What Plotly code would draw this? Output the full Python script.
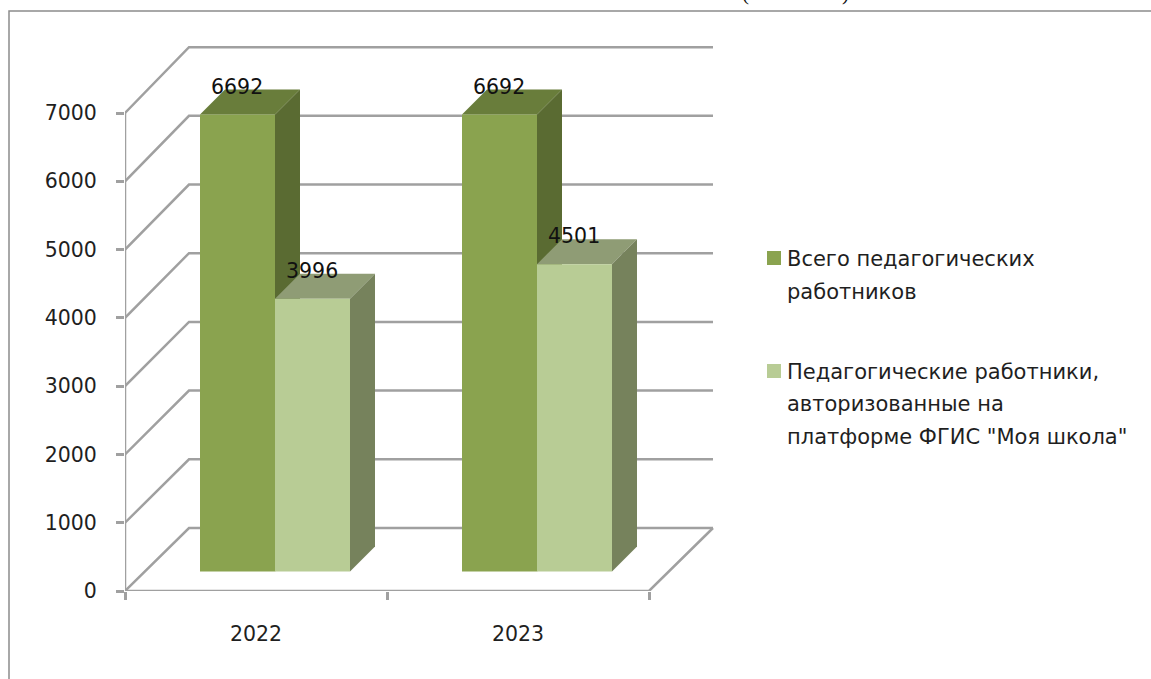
import plotly.graph_objects as go

# ---- data ----
categories = ["2022", "2023"]
series_names = ["Всего педагогических работников",
                "Педагогические работники, авторизованные на платформе ФГИС \"Моя школа\""]
total_teachers = [6692, 6692]
authorized_teachers = [3996, 4501]
y_ticks = [0, 1000, 2000, 3000, 4000, 5000, 6000, 7000]
legend_lines = [["Всего педагогических", "работников"],
                ["Педагогические работники,", "авторизованные на", "платформе ФГИС \"Моя школа\""]]

# ---- geometry (pixels) ----
W, H = 1151, 679
L, R, T, B = 125, 730, 30, 591
PX_PER_CAT = 262
PX_PER_VAL = 478 / 7000
x_u = lambda px: px / PX_PER_CAT
y_u = lambda px: px / PX_PER_VAL
px_x = lambda px: (px - L) / (R - L)
px_y = lambda py: (B - py) / (B - T)

WALL_DX, WALL_DY = x_u(64), y_u(63)
BACK_SCALE = 1.006
BAR_W = x_u(75)
BAR_DX, BAR_BASE = x_u(19), y_u(19.5)
DEPTH_X, DEPTH_Y = x_u(25), y_u(25)

GRID = "#A0A0A0"
FRAME = "#8C8C8C"
TEXT = "#1F1F1F"
FONT = "DejaVu Sans"
FS = 20.5
colors = [dict(front="#8AA34F", side="#5A6B32", top="#697D3B"),
          dict(front="#B8CC95", side="#76825C", top="#8F9C75")]

fig = go.Figure()


def line(xs, ys):
    fig.add_trace(go.Scatter(x=xs, y=ys, mode="lines", line=dict(color=GRID, width=2.5),
                             cliponaxis=False, showlegend=False, hoverinfo="skip", zorder=0))


# walls and gridlines
for v in y_ticks:
    line([0, WALL_DX, WALL_DX + len(categories)],
         [v, v * BACK_SCALE + WALL_DY, v * BACK_SCALE + WALL_DY])
line([0, 0], [y_ticks[0], y_ticks[-1]])
line([0, len(categories), len(categories) + WALL_DX], [0, 0, WALL_DY])

# bars with their top and side faces
for s, (name, vals) in enumerate(zip(series_names, [total_teachers, authorized_teachers])):
    c = colors[s]
    z = 1 + 2 * s
    xs = [i + 0.5 + BAR_DX + (s - 0.5) * BAR_W for i in range(len(categories))]
    fig.add_trace(go.Bar(x=xs, y=vals, base=BAR_BASE, width=BAR_W, name=name,
                         marker=dict(color=c["front"], line_width=0), showlegend=False, zorder=z + 1))
    for x, v in zip(xs, vals):
        x0, x1 = x - BAR_W / 2, x + BAR_W / 2
        top = BAR_BASE + v
        fig.add_trace(go.Scatter(x=[x0, x1, x1 + DEPTH_X, x0 + DEPTH_X, x0],
                                 y=[top, top, top + DEPTH_Y, top + DEPTH_Y, top],
                                 mode="lines", fill="toself", fillcolor=c["top"], line_width=0,
                                 showlegend=False, hoverinfo="skip", zorder=z))
        fig.add_trace(go.Scatter(x=[x1, x1 + DEPTH_X, x1 + DEPTH_X, x1, x1],
                                 y=[BAR_BASE, BAR_BASE + DEPTH_Y, top + DEPTH_Y, top, BAR_BASE],
                                 mode="lines", fill="toself", fillcolor=c["side"], line_width=0,
                                 showlegend=False, hoverinfo="skip", zorder=z))
        fig.add_annotation(x=x, y=top, xref="x", yref="y", text=str(v), showarrow=False,
                           xshift=-1, yshift=28, font=dict(family=FONT, size=FS, color="#111111"))

# chart frame
fig.add_shape(type="path", xref="paper", yref="paper", line=dict(color=FRAME, width=1.5),
              path=f"M {px_x(9)} {px_y(H + 5)} L {px_x(9)} {px_y(11)} L {px_x(W + 5)} {px_y(11)}")

# legend
ly = [[259, 291.5], [372, 404, 436.5]]
for s, lines in enumerate(legend_lines):
    fig.add_shape(type="rect", xref="paper", yref="paper", line_width=0, fillcolor=colors[s]["front"],
                  x0=px_x(767), x1=px_x(781), y0=px_y(ly[s][0] - 8), y1=px_y(ly[s][0] + 6))
    for t, yy in zip(lines, ly[s]):
        fig.add_annotation(x=px_x(787), y=px_y(yy), xref="paper", yref="paper", text=t, showarrow=False,
                           xanchor="left", yanchor="middle", xshift=-2,
                           font=dict(family=FONT, size=FS + 0.5, color=TEXT))

# clipped heading remnants at the top edge
for t, xp in [("(", 751), (")", 851)]:
    fig.add_annotation(x=px_x(xp), y=px_y(-21), xref="paper", yref="paper", text=t, showarrow=False,
                       font=dict(family="Liberation Serif", size=21, color="#111111"))

fig.update_layout(
    width=W, height=H, autosize=False,
    margin=dict(l=L, r=W - R, t=T, b=H - B, pad=0),
    paper_bgcolor="white", plot_bgcolor="white",
    barmode="overlay", showlegend=False,
    font=dict(family=FONT, size=FS, color=TEXT),
    xaxis=dict(range=[0, x_u(R - L)], tickmode="array", tickvals=[i + 0.5 for i in range(len(categories))],
               ticktext=categories, ticks="", showgrid=False, zeroline=False, showline=False,
               ticklabelstandoff=28, automargin=False,
               minor=dict(tickmode="array", tickvals=list(range(len(categories) + 1)), ticks="outside",
                          ticklen=8, tickwidth=2.5, tickcolor=GRID, showgrid=False)),
    yaxis=dict(range=[0, y_u(B - T)], tickmode="array", tickvals=y_ticks, ticks="outside", ticklen=8,
               tickwidth=2.5, tickcolor=GRID, showgrid=False, zeroline=False, showline=False,
               ticklabelstandoff=15, automargin=False),
)

fig.write_html("out.html", config={"displayModeBar": False},
               post_script="document.body.style.margin='0';document.body.style.overflow='hidden';")
